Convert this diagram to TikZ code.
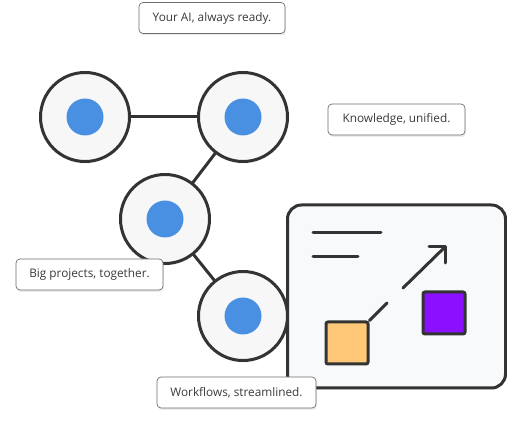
\documentclass[tikz,border=0pt]{standalone}
\usepackage{fontspec}
\setmainfont{Open Sans}
\usetikzlibrary{shadows}
\definecolor{ink}{HTML}{333333}
\definecolor{dotblue}{HTML}{4A90E2}
\definecolor{ringfill}{HTML}{F7F7F7}
\definecolor{panelfill}{HTML}{F8F9FB}
\definecolor{orangesq}{HTML}{FFC878}
\definecolor{purplesq}{HTML}{8A10FF}
\definecolor{labelborder}{HTML}{6E6E6E}
\definecolor{labeltext}{HTML}{3A3A3A}
\tikzset{
  ring/.style={circle, draw=ink, line width=3pt, fill=ringfill, minimum size=89pt, inner sep=0pt,
    drop shadow={opacity=0.12, shadow xshift=0pt, shadow yshift=-2pt}},
  dot/.style={circle, fill=dotblue, minimum size=37pt, inner sep=0pt},
  link/.style={draw=ink, line width=3pt},
  tag/.style={draw=labelborder, line width=0.7pt, fill=white, rounded corners=4pt, text=labeltext,
    font=\fontsize{11.8}{13}\selectfont, inner xsep=0pt, inner ysep=0pt, minimum height=31pt,
    drop shadow={opacity=0.15, shadow xshift=1pt, shadow yshift=-2pt}},
  stroke/.style={draw=ink, line width=3pt, line cap=round},
  sq/.style={draw=ink, line width=3pt, rounded corners=2pt, minimum size=42pt, inner sep=0pt}
}
\begin{document}
\begin{tikzpicture}[x=1pt,y=-1pt]
\useasboundingbox (0,0) rectangle (507,425);
% links
\coordinate (c1) at (85,117);
\coordinate (c2) at (243,117);
\coordinate (c3) at (165,219);
\coordinate (c4) at (243,316);
\draw[link] (c1) -- (c2);
\draw[link] (c2) -- (c3);
\draw[link] (c3) -- (c4);
% rings
\node[ring] (r1) at (c1) {};
\node[ring] (r2) at (c2) {};
\node[ring] (r3) at (c3) {};
\node[ring] (r4) at (c4) {};
\node[dot] (d1) at (c1) {};
\node[dot] (d2) at (c2) {};
\node[dot] (d3) at (c3) {};
\node[dot] (d4) at (c4) {};
% panel
\node[draw=ink, line width=3pt, fill=panelfill, rounded corners=14pt, minimum width=218pt, minimum height=183pt,
  inner sep=0pt, drop shadow={opacity=0.1, shadow xshift=0pt, shadow yshift=-2pt}] (panel) at (396.5,296.5) {};
\coordinate (l1a) at (313,233);
\coordinate (l1b) at (381,233);
\coordinate (l2a) at (313,257);
\coordinate (l2b) at (358,257);
\draw[stroke] (l1a) -- (l1b);
\draw[stroke] (l2a) -- (l2b);
\node[sq, fill=orangesq] (orange) at (347,343) {};
\node[sq, fill=purplesq] (purple) at (444,313) {};
\coordinate (a1) at (403,288);
\coordinate (tip) at (445,247);
\coordinate (h1) at (429,247);
\coordinate (h2) at (445,263);
\coordinate (s2) at (387,303);
\draw[stroke] (a1) -- (tip);
\draw[stroke, line join=round] (h1) -- (tip) -- (h2);
\draw[stroke] (orange.north east) -- (s2);
% labels
\node[tag, minimum width=146pt] (t1) at (212,18) {Your AI, always ready.};
\node[tag, minimum width=137pt] (t2) at (396.5,119.5) {Knowledge, unified.};
\node[tag, minimum width=147pt] (t3) at (89.5,274.5) {Big projects, together.};
\node[tag, minimum width=159pt] (t4) at (236.5,392.5) {Workflows, streamlined.};
\end{tikzpicture}
\end{document}
